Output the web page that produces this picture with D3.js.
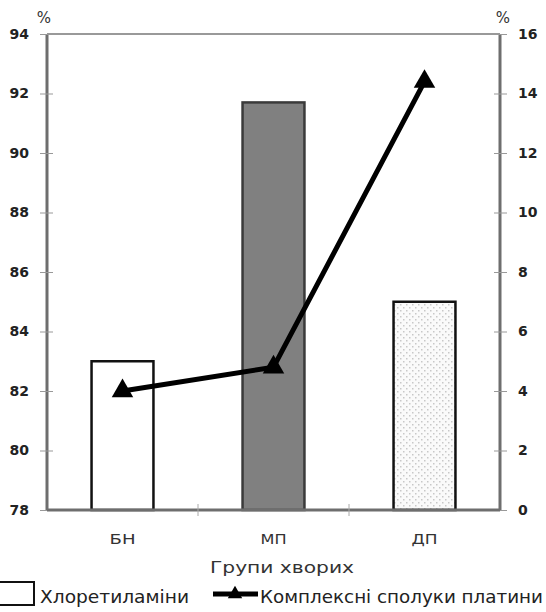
<!DOCTYPE html>
<html>
<head>
<meta charset="utf-8">
<script src="https://cdn.jsdelivr.net/npm/d3@7"></script>
<style>
  body { margin: 0; background: #fff; }
  svg { display: block; font-family: "Liberation Sans", Arial, sans-serif; }
</style>
</head>
<body>
<svg id="chart" width="546" height="612"></svg>
<script>
// Patient groups and measured values
const categories = ["БН", "МП", "ДП"];
const chlorethylamines = [83.0, 91.7, 85.0];      // left axis, %
const platinumComplexes = [4.0, 4.8, 14.4];       // right axis, %
const leftTicks = [78, 80, 82, 84, 86, 88, 90, 92, 94];
const rightTicks = [0, 2, 4, 6, 8, 10, 12, 14, 16];
const xTitle = "Групи хворих";
const legendBar = "Хлоретиламіни";
const legendLine = "Комплексні сполуки платини";

const svg = d3.select("#chart");
const m = { left: 47, right: 500, top: 34, bottom: 510 };
const axisColor = "#6e6e6e";
const wideFont = "'DejaVu Sans', 'Liberation Sans', sans-serif";

const x = d3.scaleBand().domain(categories).range([m.left, m.right]).paddingInner(0.59).paddingOuter(0.295);
const yL = d3.scaleLinear().domain([78, 94]).range([m.bottom, m.top]);
const yR = d3.scaleLinear().domain([0, 16]).range([m.bottom, m.top]);

// dotted fill for the third bar
const defs = svg.append("defs");
const pat = defs.append("pattern").attr("id", "dots").attr("patternUnits", "userSpaceOnUse")
  .attr("width", 6).attr("height", 6);
pat.append("rect").attr("width", 6).attr("height", 6).attr("fill", "#fafafa");
pat.append("rect").attr("x", 1).attr("y", 1).attr("width", 1.5).attr("height", 1.5).attr("fill", "#c8c8c8");
pat.append("rect").attr("x", 4).attr("y", 4).attr("width", 1.5).attr("height", 1.5).attr("fill", "#c8c8c8");

// plot frame top
svg.append("line").attr("x1", m.left).attr("x2", m.right).attr("y1", m.top).attr("y2", m.top)
  .attr("stroke", "#999").attr("stroke-width", 2);

// bars
const fills = ["#ffffff", "#808080", "url(#dots)"];
const strokes = ["#111", "#3a3a3a", "#111"];
svg.append("g").selectAll("rect").data(chlorethylamines).join("rect")
  .attr("x", (d, i) => x(categories[i]))
  .attr("y", d => yL(d))
  .attr("width", x.bandwidth())
  .attr("height", d => yL(78) - yL(d))
  .attr("fill", (d, i) => fills[i])
  .attr("stroke", (d, i) => strokes[i])
  .attr("stroke-width", 2.5);

// left axis
const gL = svg.append("g").attr("transform", `translate(${m.left},0)`)
  .call(d3.axisLeft(yL).tickValues(leftTicks).tickSize(7).tickPadding(11).tickFormat(d3.format("d")));
gL.selectAll(".tick line").attr("x2", -7).attr("x1", 6);
// right axis
const gR = svg.append("g").attr("transform", `translate(${m.right},0)`)
  .call(d3.axisRight(yR).tickValues(rightTicks).tickSize(7).tickPadding(11).tickFormat(d3.format("d")));
gR.selectAll(".tick line").attr("x2", 7).attr("x1", -6);
// bottom axis
const gB = svg.append("g").attr("transform", `translate(0,${m.bottom})`)
  .call(d3.axisBottom(x).tickSize(0).tickPadding(24));
// boundary ticks between categories
const bounds = categories.slice(1).map(c => x(c) - x.step() * x.paddingInner() / 2);
gB.selectAll(".bound").data(bounds).join("line").attr("class", "bound")
  .attr("x1", d => d).attr("x2", d => d).attr("y1", -6).attr("y2", 6)
  .attr("stroke", "#aaa").attr("stroke-width", 1);

[gL, gR].forEach(g => {
  g.select(".domain").attr("stroke", axisColor).attr("stroke-width", 3);
  g.selectAll(".tick line").attr("stroke", "#999").attr("stroke-width", 1);
  g.selectAll("text").attr("fill", "#222").attr("font-size", 14).attr("font-weight", "bold")
    .attr("font-family", wideFont);
});
gB.select(".domain").attr("stroke", axisColor).attr("stroke-width", 3);
gL.select(".domain").attr("d", `M0,${m.top}V${m.bottom}`);
gR.select(".domain").attr("d", `M0,${m.top}V${m.bottom}`);
gB.select(".domain").attr("d", `M${m.left},0H${m.right}`);
gB.selectAll("text").attr("fill", "#333").attr("font-size", 14).attr("font-family", wideFont)
  .attr("textLength", 26).attr("lengthAdjust", "spacingAndGlyphs");

// percent units
svg.append("text").attr("x", 44).attr("y", 23).attr("text-anchor", "middle")
  .attr("font-size", 15).attr("fill", "#333").attr("font-family", wideFont).text("%");
svg.append("text").attr("x", 503).attr("y", 23).attr("text-anchor", "middle")
  .attr("font-size", 15).attr("fill", "#333").attr("font-family", wideFont).text("%");

// line series on the right axis
const cx = c => x(c) + x.bandwidth() / 2;
const pts = platinumComplexes.map((v, i) => [cx(categories[i]), yR(v)]);
svg.append("path").datum(pts).attr("d", d3.line()).attr("fill", "none")
  .attr("stroke", "#000").attr("stroke-width", 5).attr("stroke-linejoin", "round");
const tri = d3.symbol().type(d3.symbolTriangle).size(200);
svg.append("g").selectAll("path").data(pts).join("path")
  .attr("transform", d => `translate(${d[0]},${d[1]})`)
  .attr("d", tri).attr("fill", "#000");

// axis title
svg.append("text").attr("x", 210).attr("y", 573)
  .attr("font-size", 16).attr("fill", "#333").attr("font-family", wideFont)
  .attr("textLength", 144).attr("lengthAdjust", "spacingAndGlyphs").text(xTitle);

// legend
svg.append("rect").attr("x", -1).attr("y", 582).attr("width", 35).attr("height", 23)
  .attr("fill", "#fff").attr("stroke", "#111").attr("stroke-width", 2);
svg.append("text").attr("x", 40).attr("y", 603).attr("font-size", 17).attr("fill", "#222")
  .attr("font-family", wideFont).attr("textLength", 149).attr("lengthAdjust", "spacingAndGlyphs").text(legendBar);
svg.append("line").attr("x1", 213).attr("x2", 258).attr("y1", 594).attr("y2", 594)
  .attr("stroke", "#000").attr("stroke-width", 5);
svg.append("path").attr("transform", "translate(235,594)")
  .attr("d", d3.symbol().type(d3.symbolTriangle).size(90)).attr("fill", "#000");
svg.append("text").attr("x", 260).attr("y", 603).attr("font-size", 17).attr("fill", "#222")
  .attr("font-family", wideFont).attr("textLength", 283).attr("lengthAdjust", "spacingAndGlyphs").text(legendLine);
</script>
</body>
</html>
